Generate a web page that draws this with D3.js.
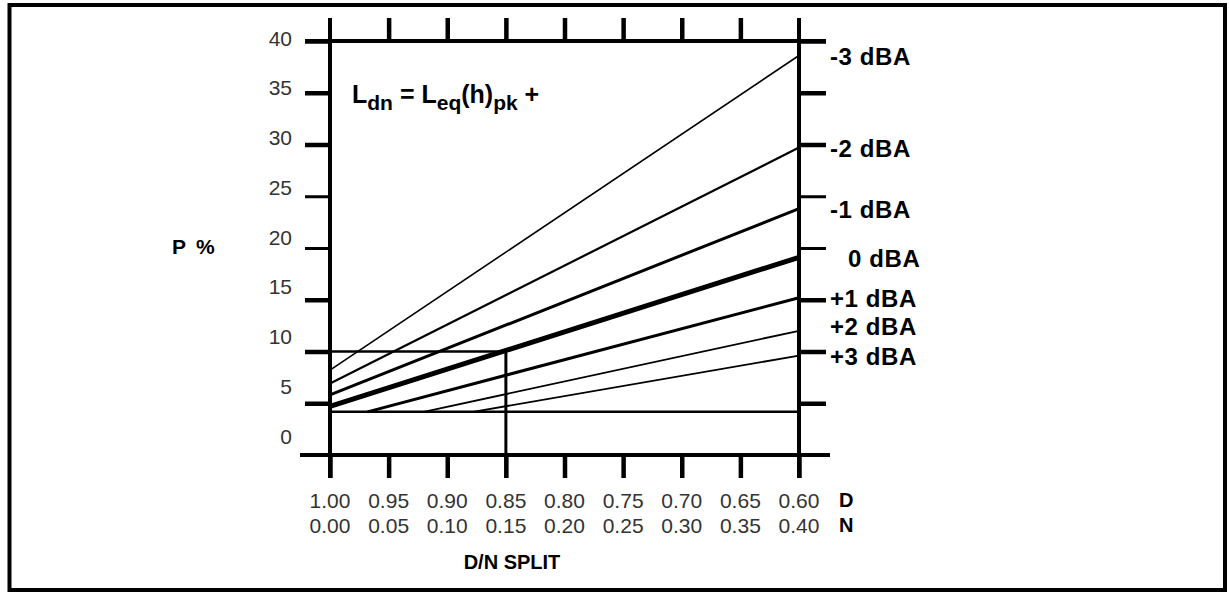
<!DOCTYPE html>
<html>
<head>
<meta charset="utf-8">
<script src="https://cdn.jsdelivr.net/npm/d3@7"></script>
<style>
  body { margin: 0; background: #fff; }
  svg { display: block; font-family: "Liberation Sans", Arial, sans-serif; }
</style>
</head>
<body>
<svg id="chart" width="1229" height="592"></svg>
<script>
// D/N split along the bottom
const dTicks = [1.00, 0.95, 0.90, 0.85, 0.80, 0.75, 0.70, 0.65, 0.60];
const dLabels = ['1.00', '0.95', '0.90', '0.85', '0.80', '0.75', '0.70', '0.65', '0.60'];
const nLabels = ['0.00', '0.05', '0.10', '0.15', '0.20', '0.25', '0.30', '0.35', '0.40'];

// P % on the left
const pTicks = [0, 5, 10, 15, 20, 25, 30, 35, 40];

// adjustment lines (start and end points)
const lineNames = ['-3 dBA', '-2 dBA', '-1 dBA', '0 dBA', '+1 dBA', '+2 dBA', '+3 dBA'];
const lineD0 = [1.00, 1.00, 1.00, 1.00, 0.968, 0.92, 0.878];
const lineP0 = [8.2, 6.9, 5.8, 4.7, 4.17, 4.17, 4.17];
const lineD1 = [0.60, 0.60, 0.60, 0.60, 0.60, 0.60, 0.60];
const lineP1 = [38.6, 29.7, 23.8, 19.1, 15.2, 12.0, 9.6];
const lineW = [1.6, 2.2, 3, 5, 3, 1.8, 1.8];

// worked example and lower limit (1/24 of the day)
const exampleD = 0.85;
const exampleP = 10;
const minP = 4.17;

const svg = d3.select('#chart');

svg.append('rect')
  .attr('x', 9.5).attr('y', 5)
  .attr('width', 1215.5).attr('height', 585)
  .attr('fill', 'none').attr('stroke', '#000').attr('stroke-width', 4);

const x = d3.scaleLinear().domain([1.0, 0.6]).range([330, 799]);
const y = d3.scaleLinear().domain([0, 40]).range([455, 41]);
// the printed numbers do not sit quite on their ticks
const yLab = d3.scaleLinear().domain([0, 40]).range([436, 38]);

const g = svg.append('g');

function tickStyle(sel, thin) {
  sel.select('.domain').remove();
  sel.selectAll('.tick line')
    .attr('stroke', '#000')
    .attr('stroke-width', (d) => (thin.includes(d) ? 3 : 4.5));
}

// ticks on all four sides
g.append('g').attr('transform', `translate(${x(1.0)},0)`)
  .call(d3.axisLeft(y).tickValues(pTicks.slice(1)).tickSize(25).tickFormat(''))
  .call(tickStyle, [20, 25]);
g.append('g').attr('transform', `translate(${x(0.6)},0)`)
  .call(d3.axisRight(y).tickValues(pTicks.slice(1)).tickSize(27).tickFormat(''))
  .call(tickStyle, [20, 25]);
g.append('g').attr('transform', `translate(0,${y(40)})`)
  .call(d3.axisTop(x).tickValues(dTicks.slice(1, -1)).tickSize(23).tickFormat(''))
  .call(tickStyle, []);
g.append('g').attr('transform', `translate(0,${y(0)})`)
  .call(d3.axisBottom(x).tickValues(dTicks).tickSize(23).tickFormat(''))
  .call(tickStyle, []);

// frame
const frame = [
  [x(1.0), y(40) - 23, x(1.0), y(0) + 23],
  [x(0.6), y(40) - 23, x(0.6), y(0) + 23],
  [x(1.0) - 25, y(40), x(0.6) + 27, y(40)],
  [x(1.0) - 30, y(0), x(0.6) + 31, y(0)],
];
g.selectAll('.frame').data(frame).join('line')
  .attr('x1', (d) => d[0]).attr('y1', (d) => d[1])
  .attr('x2', (d) => d[2]).attr('y2', (d) => d[3])
  .attr('stroke', '#000').attr('stroke-width', 4);

// lower limit and the example lookup
g.append('line')
  .attr('x1', x(1.0)).attr('x2', x(0.6))
  .attr('y1', y(minP)).attr('y2', y(minP))
  .attr('stroke', '#000').attr('stroke-width', 2.5);
g.append('line')
  .attr('x1', x(1.0) - 25).attr('x2', x(exampleD))
  .attr('y1', y(exampleP)).attr('y2', y(exampleP))
  .attr('stroke', '#000').attr('stroke-width', 2.5);
g.append('line')
  .attr('x1', x(exampleD)).attr('x2', x(exampleD))
  .attr('y1', y(exampleP)).attr('y2', y(0) + 23)
  .attr('stroke', '#000').attr('stroke-width', 3);

// adjustment lines
const lines = lineNames.map((name, i) => ({
  name,
  pts: [[lineD0[i], lineP0[i]], [lineD1[i], lineP1[i]]],
  w: lineW[i],
}));
const path = d3.line().x((d) => x(d[0])).y((d) => y(d[1]));
g.selectAll('.adj').data(lines).join('path')
  .attr('d', (d) => path(d.pts))
  .attr('fill', 'none').attr('stroke', '#000')
  .attr('stroke-width', (d) => d.w);

// +2 label is lifted a little off its line end in the original
g.selectAll('.adjLabel').data(lines).join('text')
  .attr('x', (d) => x(0.6) + (/^[-+]/.test(d.name) ? 31 : 49))
  .attr('y', (d) => y(d.pts[1][1]) + (d.name === '+2 dBA' ? -4 : 1))
  .attr('dominant-baseline', 'central')
  .attr('font-size', 24).attr('font-weight', 'bold')
  .attr('letter-spacing', 0.6)
  .text((d) => d.name);

// tick numbers
g.selectAll('.pLab').data(pTicks).join('text')
  .attr('x', x(1.0) - 38)
  .attr('y', (d) => yLab(d))
  .attr('text-anchor', 'end').attr('dominant-baseline', 'central')
  .attr('font-size', 21).attr('fill', '#333')
  .text((d) => d);

g.selectAll('.dLab').data(dTicks).join('text')
  .attr('x', (d) => x(d)).attr('y', 500)
  .attr('text-anchor', 'middle').attr('dominant-baseline', 'central')
  .attr('font-size', 21).attr('fill', '#333')
  .text((d, i) => dLabels[i]);
g.selectAll('.nLab').data(dTicks).join('text')
  .attr('x', (d) => x(d)).attr('y', 525)
  .attr('text-anchor', 'middle').attr('dominant-baseline', 'central')
  .attr('font-size', 21).attr('fill', '#333')
  .text((d, i) => nLabels[i]);

g.selectAll('.rowName').data(['D', 'N']).join('text')
  .attr('x', x(0.6) + 40)
  .attr('y', (d, i) => (i === 0 ? 500 : 525))
  .attr('dominant-baseline', 'central')
  .attr('font-size', 20).attr('font-weight', 'bold')
  .text((d) => d);

// titles
svg.append('text')
  .attr('x', 512).attr('y', 569)
  .attr('text-anchor', 'middle')
  .attr('font-size', 20).attr('font-weight', 'bold')
  .text('D/N SPLIT');

const pt = svg.append('text')
  .attr('x', 172).attr('y', 254)
  .attr('font-size', 21).attr('font-weight', 'bold');
pt.append('tspan').text('P');
pt.append('tspan').attr('dx', 10).text('%');

const f = svg.append('text')
  .attr('x', 352).attr('y', 103)
  .attr('font-size', 25).attr('font-weight', 'bold');
f.append('tspan').text('L');
f.append('tspan').attr('font-size', 21).attr('dy', 7).text('dn');
f.append('tspan').attr('dy', -7).text(' = L');
f.append('tspan').attr('font-size', 21).attr('dy', 7).text('eq');
f.append('tspan').attr('dy', -7).text('(h)');
f.append('tspan').attr('font-size', 21).attr('dy', 7).text('pk');
f.append('tspan').attr('dy', -7).text(' +');
</script>
</body>
</html>
